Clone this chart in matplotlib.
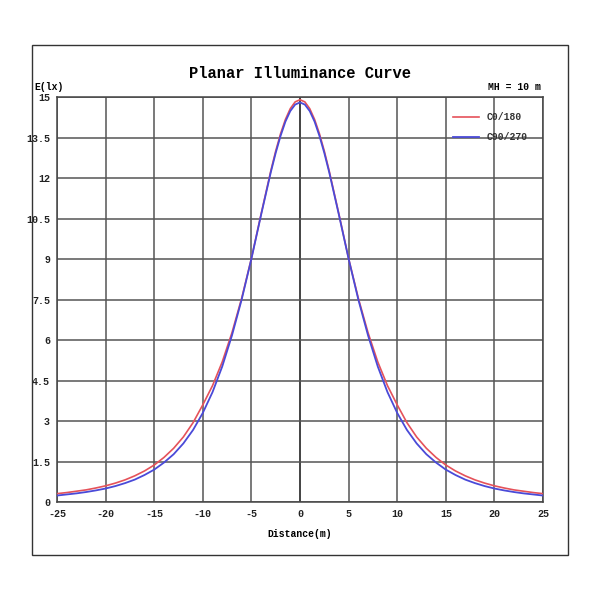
import numpy as np
import matplotlib
matplotlib.use('Agg')
import matplotlib.pyplot as plt
from matplotlib.patches import Rectangle

plt.rcParams['axes.unicode_minus'] = False

# distance from the luminaire (m), half steps near the peak
dist = [-25, -24, -23, -22, -21, -20, -19, -18, -17, -16, -15, -14, -13, -12,
        -11, -10, -9, -8, -7, -6, -5, -4, -3, -2.5, -2, -1.5, -1, -0.5, 0,
        0.5, 1, 1.5, 2, 2.5, 3, 4, 5, 6, 7, 8, 9, 10, 11, 12, 13, 14, 15,
        16, 17, 18, 19, 20, 21, 22, 23, 24, 25]

# illuminance (lx)
e_c0 = [0.31, 0.35, 0.40, 0.45, 0.52, 0.60, 0.70, 0.82, 0.97, 1.15, 1.37,
        1.65, 1.99, 2.41, 2.94, 3.60, 4.31, 5.19, 6.27, 7.55, 9.02, 10.67,
        12.27, 13.00, 13.64, 14.17, 14.57, 14.82, 14.90,
        14.82, 14.57, 14.17, 13.64, 13.00, 12.27, 10.67, 9.02, 7.55, 6.27,
        5.19, 4.31, 3.60, 2.94, 2.41, 1.99, 1.65, 1.37, 1.15, 0.97, 0.82,
        0.70, 0.60, 0.52, 0.45, 0.40, 0.35, 0.31]
e_c90 = [0.24, 0.28, 0.32, 0.37, 0.43, 0.50, 0.59, 0.70, 0.83, 1.00, 1.20,
         1.46, 1.77, 2.17, 2.67, 3.30, 4.07, 5.02, 6.17, 7.50, 9.01, 10.64,
         12.22, 12.93, 13.56, 14.09, 14.48, 14.72, 14.80,
         14.72, 14.48, 14.09, 13.56, 12.93, 12.22, 10.64, 9.01, 7.50, 6.17,
         5.02, 4.07, 3.30, 2.67, 2.17, 1.77, 1.46, 1.20, 1.00, 0.83, 0.70,
         0.59, 0.50, 0.43, 0.37, 0.32, 0.28, 0.24]

xticks = [-25, -20, -15, -10, -5, 0, 5, 10, 15, 20, 25]
yticks = [0, 1.5, 3, 4.5, 6, 7.5, 9, 10.5, 12, 13.5, 15]
ylabels = ['0', '1.5', '3', '4.5', '6', '7.5', '9', '10.5', '12', '13.5', '15']

mono = 'Liberation Mono'

fig = plt.figure(figsize=(6, 6), dpi=100)
fig.patches.append(Rectangle((0.053, 0.075), 0.894, 0.85, transform=fig.transFigure,
                             fill=False, edgecolor='#333333', linewidth=1.0))

ax = fig.add_axes([0.095, 0.1633, 0.81, 0.675])
ax.set_xlim(-25, 25)
ax.set_ylim(0, 15)

for x in xticks:
    ax.axvline(x, color='#111111' if x == 0 else '#555555', linewidth=1.1, zorder=1)
for y in yticks:
    ax.axhline(y, color='#555555', linewidth=1.1, zorder=1)

ax.plot(dist, e_c0, color='#e5525a', linewidth=1.2, label='C0/180', zorder=3)
ax.plot(dist, e_c90, color='#4a4ad8', linewidth=1.3, label='C90/270', zorder=3)

ax.set_xticks(xticks)
ax.set_yticks(yticks)
ax.set_yticklabels(ylabels)
ax.tick_params(length=0, pad=5, labelsize=7.2, labelcolor='#222222')
for lab in ax.get_xticklabels() + ax.get_yticklabels():
    lab.set_family(mono)
    lab.set_weight('bold')
for s in ax.spines.values():
    s.set_color('#444444')
    s.set_linewidth(1.1)

ax.set_xlabel('Distance(m)', family=mono, weight='bold', fontsize=7, labelpad=7)

leg = ax.legend(loc='upper left', bbox_to_anchor=(0.805, 0.975), frameon=False,
                prop={'family': mono, 'weight': 'bold', 'size': 7},
                handlelength=2.7, handletextpad=0.8, labelspacing=1.05, borderpad=0)
for t in leg.get_texts():
    t.set_color('#333333')

fig.text(0.5, 0.878, 'Planar Illuminance Curve', ha='center', va='center',
         family=mono, weight='bold', fontsize=11.2)
fig.text(0.902, 0.855, 'MH = 10 m', ha='right', va='center',
         family=mono, weight='bold', fontsize=7)
fig.text(0.057, 0.855, 'E(lx)', ha='left', va='center',
         family=mono, weight='bold', fontsize=7)

plt.savefig('out.png', dpi=100)
